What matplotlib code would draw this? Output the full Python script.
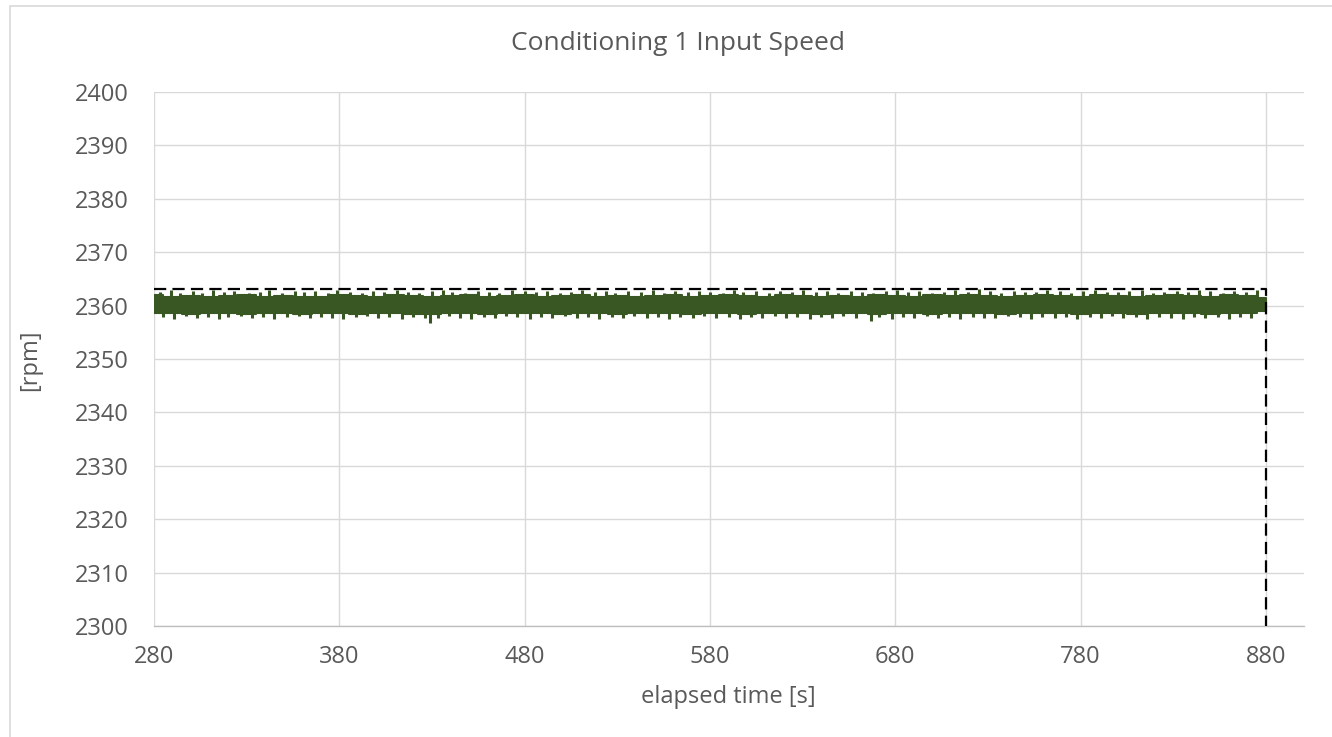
import matplotlib
matplotlib.use("Agg")
import matplotlib.pyplot as plt
from matplotlib.patches import Rectangle
import numpy as np

# ---------------- data ----------------
title = "Conditioning 1 Input Speed"
x_label = "elapsed time [s]"
y_label = "[rpm]"
x_ticks = [280, 380, 480, 580, 680, 780, 880]
y_ticks = [2300, 2310, 2320, 2330, 2340, 2350, 2360, 2370, 2380, 2390, 2400]

# core band of the noisy speed signal (every 10 s)
core_time = [280, 290, 300, 310, 320, 330, 340, 350, 360, 370, 380, 390, 400, 410, 420,
             430, 440, 450, 460, 470, 480, 490, 500, 510, 520, 530, 540, 550, 560, 570,
             580, 590, 600, 610, 620, 630, 640, 650, 660, 670, 680, 690, 700, 710, 720,
             730, 740, 750, 760, 770, 780, 790, 800, 810, 820, 830, 840, 850, 860, 870, 880]
core_upper = [2361.9, 2361.7, 2361.8, 2361.6, 2361.8, 2361.9, 2361.7, 2361.8, 2361.6, 2361.7,
              2361.9, 2361.8, 2361.7, 2361.9, 2361.8, 2361.6, 2361.8, 2361.9, 2361.7, 2361.8,
              2361.9, 2361.7, 2361.8, 2361.9, 2361.7, 2361.8, 2361.6, 2361.8, 2361.9, 2361.7,
              2361.8, 2361.9, 2361.8, 2361.7, 2361.9, 2361.8, 2361.6, 2361.8, 2361.7, 2361.9,
              2361.8, 2361.7, 2361.9, 2361.8, 2361.9, 2361.8, 2361.7, 2361.8, 2361.9, 2361.8,
              2361.7, 2361.9, 2361.8, 2361.7, 2361.8, 2361.9, 2361.8, 2361.7, 2361.9, 2361.8, 2361.4]
core_lower = [2358.6, 2358.7, 2358.5, 2358.7, 2358.6, 2358.5, 2358.7, 2358.6, 2358.4, 2358.6,
              2358.7, 2358.5, 2358.6, 2358.7, 2358.5, 2358.4, 2358.6, 2358.7, 2358.5, 2358.6,
              2358.7, 2358.6, 2358.5, 2358.7, 2358.6, 2358.5, 2358.7, 2358.6, 2358.7, 2358.5,
              2358.6, 2358.7, 2358.5, 2358.6, 2358.7, 2358.6, 2358.5, 2358.7, 2358.6, 2358.5,
              2358.7, 2358.6, 2358.5, 2358.7, 2358.6, 2358.7, 2358.5, 2358.6, 2358.7, 2358.6,
              2358.5, 2358.6, 2358.7, 2358.5, 2358.6, 2358.7, 2358.6, 2358.5, 2358.6, 2358.7, 2358.9]

# upward peaks of the signal
peak_up_time = [283, 289, 294, 301, 306, 312, 318, 323, 331, 337, 342, 349, 356, 361, 367, 374,
                379, 386, 392, 398, 404, 411, 417, 423, 430, 436, 441, 448, 455, 461, 466, 473,
                480, 486, 492, 499, 505, 511, 518, 524, 529, 536, 543, 549, 555, 561, 568, 574,
                580, 587, 593, 598, 605, 612, 618, 624, 630, 637, 643, 649, 656, 662, 668, 675,
                681, 687, 693, 700, 706, 712, 719, 725, 731, 737, 744, 750, 756, 762, 769, 775,
                781, 788, 794, 800, 806, 813, 819, 825, 832, 838, 844, 850, 857, 863, 869, 875]
peak_up_value = [2362.6, 2362.9, 2362.3, 2362.7, 2362.4, 2363.0, 2362.5, 2362.8, 2362.3, 2362.6,
                 2362.9, 2362.4, 2362.7, 2362.5, 2362.8, 2362.3, 2362.9, 2362.6, 2362.4, 2362.8,
                 2362.5, 2363.0, 2362.6, 2362.4, 2362.7, 2362.9, 2362.5, 2362.3, 2362.8, 2362.6,
                 2362.4, 2362.9, 2362.7, 2362.5, 2362.8, 2362.4, 2362.6, 2363.0, 2362.5, 2362.7,
                 2362.3, 2362.8, 2362.6, 2362.9, 2362.4, 2362.7, 2362.5, 2362.8, 2362.6, 2362.3,
                 2362.9, 2362.5, 2362.7, 2362.4, 2362.8, 2362.6, 2362.9, 2362.5, 2362.7, 2362.4,
                 2362.8, 2362.6, 2362.3, 2362.7, 2362.9, 2362.5, 2362.8, 2362.4, 2362.6, 2362.9,
                 2362.5, 2363.1, 2362.7, 2362.4, 2362.8, 2362.6, 2362.5, 2362.9, 2362.7, 2362.4,
                 2362.8, 2363.0, 2362.6, 2362.5, 2362.7, 2362.9, 2362.4, 2362.6, 2362.8, 2362.5,
                 2362.9, 2362.7, 2362.4, 2362.8, 2362.6, 2362.9]

# downward dips of the signal
peak_dn_time = [285, 291, 297, 303, 309, 315, 320, 327, 333, 339, 345, 352, 358, 364, 370, 376,
                382, 389, 395, 401, 407, 414, 420, 426, 429, 433, 439, 445, 451, 458, 464, 470,
                476, 483, 489, 495, 502, 508, 514, 520, 527, 533, 539, 546, 552, 558, 564, 571,
                577, 583, 590, 596, 602, 608, 615, 621, 627, 634, 640, 646, 652, 659, 667, 671,
                678, 684, 690, 697, 703, 709, 715, 722, 728, 734, 741, 747, 753, 759, 766, 772,
                778, 785, 791, 797, 803, 810, 816, 822, 829, 835, 841, 847, 854, 860, 866, 872]
peak_dn_value = [2357.8, 2357.5, 2358.0, 2357.6, 2357.9, 2357.4, 2357.8, 2358.1, 2357.6, 2357.9,
                 2357.5, 2357.8, 2358.0, 2357.6, 2357.9, 2357.7, 2357.5, 2357.9, 2358.1, 2357.6,
                 2357.8, 2357.5, 2357.9, 2357.7, 2356.8, 2357.6, 2358.0, 2357.7, 2357.5, 2357.9,
                 2357.6, 2358.0, 2357.8, 2357.5, 2357.9, 2357.7, 2358.0, 2357.6, 2357.8, 2357.5,
                 2357.9, 2357.7, 2358.0, 2357.6, 2357.8, 2357.4, 2357.9, 2357.7, 2358.0, 2357.6,
                 2357.8, 2357.5, 2357.9, 2357.7, 2358.0, 2357.6, 2357.8, 2357.5, 2357.9, 2357.7,
                 2358.0, 2357.6, 2357.1, 2357.8, 2357.5, 2357.9, 2357.7, 2358.0, 2357.6, 2357.8,
                 2357.5, 2357.9, 2357.7, 2357.6, 2358.0, 2357.8, 2357.5, 2357.9, 2357.6, 2357.8,
                 2357.4, 2357.9, 2357.7, 2358.0, 2357.6, 2357.8, 2357.5, 2357.9, 2357.7, 2357.4,
                 2357.8, 2357.6, 2357.9, 2357.5, 2357.8, 2357.6]

limit_speed = 2363.2   # dashed upper limit
end_time = 880         # dashed end marker

# ---------------- styling ----------------
SIG = "#385723"
GRID = "#d9d9d9"
TXT = "#595959"
FONT = ["Open Sans", "DejaVu Sans"]
W, H = 1332, 737

fig = plt.figure(figsize=(W / 100, H / 100), dpi=100)
fig.patch.set_facecolor("white")

# outer chart border
fig.add_artist(Rectangle((10 / W, -0.05), 1.2, 1 - 6 / H + 0.05,
                         transform=fig.transFigure, fill=False,
                         edgecolor="#d9d9d9", linewidth=1.2))

ax = fig.add_axes([154 / W, 1 - 626 / H, (1304 - 154) / W, (626 - 92) / H])
ax.set_xlim(280, 900.5)
ax.set_ylim(2300, 2400)
ax.set_xticks(x_ticks)
ax.set_yticks(y_ticks)
ax.grid(True, color=GRID, linewidth=1.0)
ax.set_axisbelow(True)
for s in ["top", "right", "left"]:
    ax.spines[s].set_visible(False)
ax.spines["bottom"].set_color("#bfbfbf")
ax.spines["bottom"].set_linewidth(1.0)
ax.tick_params(length=0, labelsize=17, labelcolor=TXT)
ax.tick_params(axis="y", pad=18)
ax.tick_params(axis="x", pad=14)
for lab in ax.get_xticklabels() + ax.get_yticklabels():
    lab.set_family(FONT)

# signal
ax.fill_between(core_time, core_lower, core_upper, step="mid", color=SIG,
                linewidth=1.5, edgecolor=SIG, zorder=3)
up_base = np.interp(peak_up_time, core_time, core_upper) - 0.5
dn_base = np.interp(peak_dn_time, core_time, core_lower) + 0.5
ax.vlines(peak_up_time, up_base, peak_up_value, color=SIG, linewidth=2.2, zorder=3)
ax.vlines(peak_dn_time, peak_dn_value, dn_base, color=SIG, linewidth=2.2, zorder=3)

# dashed limit box
ax.plot([280, end_time, end_time], [limit_speed, limit_speed, 2300],
        color="black", linestyle=(0, (5.5, 2.8)), linewidth=1.6, zorder=4,
        clip_on=False)

fig.text(678 / W, 1 - 44 / H, title, fontsize=19, color=TXT, family=FONT,
         ha="center", va="center")
fig.text(728 / W, 1 - 697 / H, x_label, fontsize=17, color=TXT, family=FONT,
         ha="center", va="center")
fig.text(30 / W, 1 - 360 / H, y_label, fontsize=17, color=TXT, family=FONT,
         ha="center", va="center", rotation=90)

fig.savefig("out.png", dpi=100)
